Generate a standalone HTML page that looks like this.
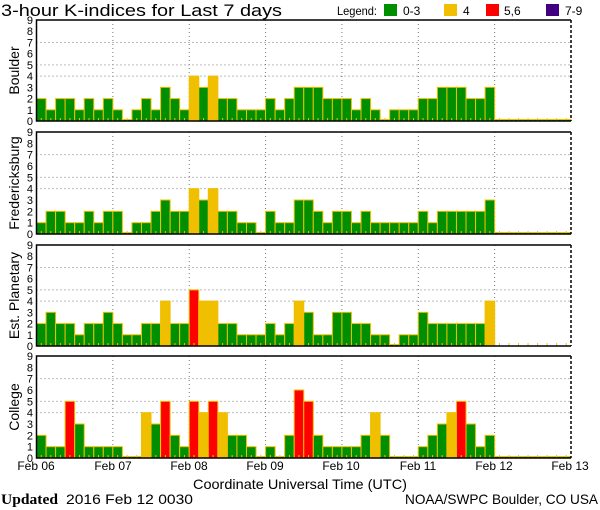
<!DOCTYPE html>
<html><head><meta charset="utf-8"><style>
html,body{margin:0;padding:0;background:#fff;}
svg{display:block;font-family:"Liberation Sans",sans-serif;}
</style></head><body>
<svg id="s" width="600" height="510" viewBox="0 0 600 510" xmlns="http://www.w3.org/2000/svg">
<text x="1" y="16" font-size="17" fill="#000" textLength="281" lengthAdjust="spacingAndGlyphs">3-hour K-indices for Last 7 days</text>
<text x="337" y="15" font-size="12" textLength="40" lengthAdjust="spacingAndGlyphs">Legend:</text>
<rect x="384" y="4" width="13" height="12" fill="#008f00"/><text x="403" y="15" font-size="12">0-3</text>
<rect x="444" y="4" width="13" height="12" fill="#f0c000"/><text x="463" y="15" font-size="12">4</text>
<rect x="486" y="4" width="13" height="12" fill="#ff0000"/><text x="504" y="15" font-size="12">5,6</text>
<rect x="546" y="4" width="13" height="12" fill="#40007f"/><text x="565" y="15" font-size="12">7-9</text>
<g id="g"></g>
<g font-size="12" text-anchor="middle">
<text x="36" y="470">Feb 06</text><text x="113" y="470">Feb 07</text><text x="189" y="470">Feb 08</text><text x="265" y="470">Feb 09</text><text x="341" y="470">Feb 10</text><text x="418" y="470">Feb 11</text><text x="494" y="470">Feb 12</text><text x="570" y="470">Feb 13</text>
</g>
<text x="193" y="489" font-size="14" textLength="214" lengthAdjust="spacingAndGlyphs">Coordinate Universal Time (UTC)</text>
<text x="1" y="504" font-size="15" font-family="Liberation Serif,serif" font-weight="bold" textLength="57" lengthAdjust="spacingAndGlyphs">Updated</text>
<text x="66" y="504" font-size="14" textLength="127" lengthAdjust="spacingAndGlyphs">2016 Feb 12 0030</text>
<text x="405" y="504" font-size="14" textLength="193" lengthAdjust="spacingAndGlyphs">NOAA/SWPC Boulder, CO USA</text>
</svg>
<script>
var P=[
{n:"Boulder",t:20,b:121,v:[2,1,2,2,1,2,1,2,1,0,1,2,1,3,2,1,4,3,4,2,2,1,1,1,2,1,2,3,3,3,2,2,2,1,2,1,0,1,1,1,2,2,3,3,3,2,2,3],z:1},
{n:"Fredericksburg",t:132,b:234,v:[1,2,2,1,1,2,1,2,2,0,1,1,2,3,2,2,4,3,4,2,2,1,1,0,2,1,1,3,3,2,1,2,2,1,2,1,1,1,1,1,2,1,2,2,2,2,2,3],z:1},
{n:"Est. Planetary",t:245,b:346,v:[2,3,2,2,1,2,2,3,2,1,1,2,2,4,2,2,5,4,4,2,2,1,1,1,2,1,2,4,3,1,1,3,3,2,2,1,1,0,1,1,3,2,2,2,2,2,2,4],z:0},
{n:"College",t:356,b:458,v:[2,1,1,5,3,1,1,1,1,0,0,4,3,5,2,1,5,4,5,4,2,2,1,0,1,0,2,6,5,2,1,1,1,1,2,4,2,0,0,0,1,2,3,4,5,3,1,2],z:1}];
var L=36.5,R=571,W=(R-L)/56,h="";
function col(k){return k<=3?"#008f00":k==4?"#f0c000":k<=6?"#ff0000":"#40007f";}
P.forEach(function(p){
 var u=(p.b-p.t)/9;
 [4,5,7].forEach(function(k){var y=p.b-k*u;h+='<line x1="'+L+'" x2="'+R+'" y1="'+y+'" y2="'+y+'" stroke="#777" stroke-dasharray="1,3"/>';});
 for(var d=1;d<7;d++){var x=L+d*8*W;h+='<line x1="'+x+'" x2="'+x+'" y1="'+p.t+'" y2="'+p.b+'" stroke="#777" stroke-dasharray="1,3"/>';}
 for(var i=0;i<56;i++){
  var x=L+i*W;
  if(i<48){var k=p.v[i];var hh=k==0?1.5:k*u;h+='<rect x="'+x+'" y="'+(p.b-hh)+'" width="'+W+'" height="'+hh+'" fill="'+col(k)+'" stroke="#f0c000" stroke-width="1"/>';}
  else if(p.z){h+='<rect x="'+x+'" y="'+(p.b-1.5)+'" width="'+W+'" height="1.5" fill="#008f00" stroke="#f0c000" stroke-width="1"/>';}
  h+='<line x1="'+(x+W/2)+'" x2="'+(x+W/2)+'" y1="'+(p.b-3)+'" y2="'+p.b+'" stroke="#f0c000"/>';
 }
 h+='<path d="M'+R+' '+p.t+'H'+L+'V'+p.b+'H'+R+'" fill="none" stroke="#000" stroke-width="1.5"/>';
 h+='<line x1="'+R+'" x2="'+R+'" y1="'+p.t+'" y2="'+p.b+'" stroke="#000" stroke-width="1.5" stroke-dasharray="3,2"/>';
 for(var k=0;k<=9;k++){h+='<text x="33" y="'+(p.b-k*u+4)+'" font-size="11" text-anchor="end">'+k+'</text>';}
 var cy=(p.t+p.b)/2;
 h+='<text transform="translate(19,'+cy+') rotate(-90)" font-size="14" text-anchor="middle">'+p.n+'</text>';
});
document.getElementById("g").innerHTML=h;
</script>
</body></html>
